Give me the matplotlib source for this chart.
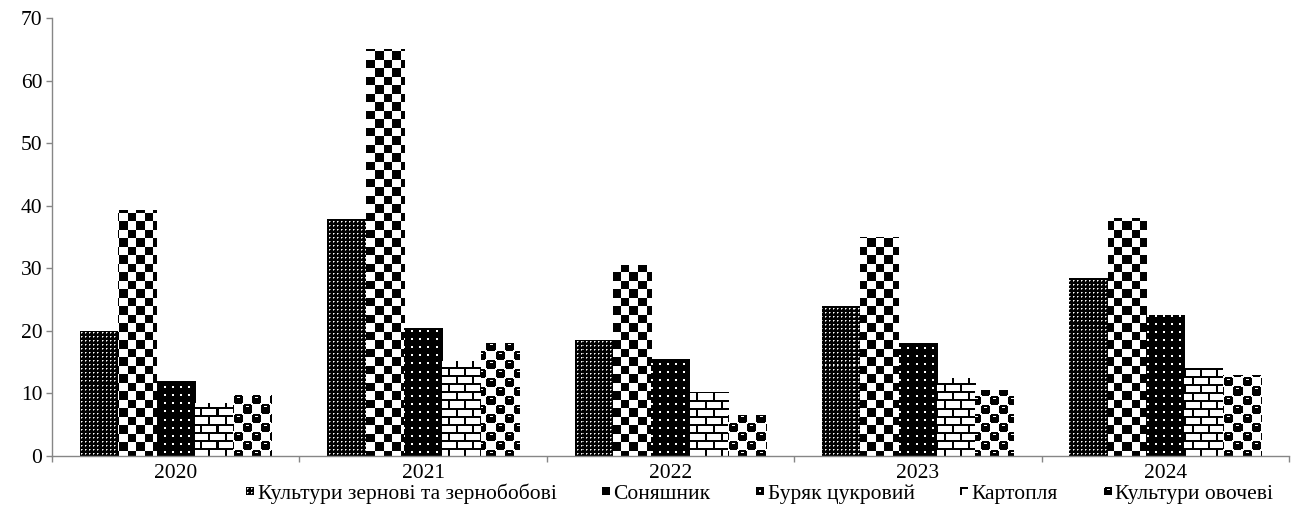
import numpy as np
import matplotlib
matplotlib.use("Agg")
import matplotlib.pyplot as plt
from matplotlib.patches import Rectangle
from matplotlib.legend_handler import HandlerBase

# ---- data -------------------------------------------------------------
years = ["2020", "2021", "2022", "2023", "2024"]
series_names = [
    "Культури зернові та зернобобові",
    "Соняшник",
    "Буряк цукровий",
    "Картопля",
    "Культури овочеві",
]
grain = [20.0, 37.8, 18.5, 24.0, 28.5]
sunflower = [39.3, 65.0, 30.5, 35.0, 38.0]
sugar_beet = [12.0, 20.5, 15.5, 18.0, 22.5]
potato = [8.5, 15.2, 10.3, 12.5, 14.0]
vegetables = [9.8, 18.0, 6.5, 10.5, 13.0]
y_ticks = [0, 10, 20, 30, 40, 50, 60, 70]

# ---- figure geometry (pixels) ----------------------------------------
DPI = 100
FW, FH = 1296, 507
AX_L, AX_R, AX_T, AX_B = 52, 1289, 18, 456

plt.rcParams["font.family"] = ["Liberation Serif", "DejaVu Serif"]
plt.rcParams["font.size"] = 15.5

fig = plt.figure(figsize=(FW / DPI, FH / DPI), dpi=DPI)
ax = fig.add_axes([AX_L / FW, (FH - AX_B) / FH, (AX_R - AX_L) / FW, (AX_B - AX_T) / FH])


# ---- monochrome fill patterns (1 = white, 0 = black) ----------------
def pat_dots_dense(X, Y):
    img = np.zeros(np.broadcast(X, Y).shape)
    img[(X % 4 == 1) & (Y % 4 == 1)] = 1.0
    img[((X % 4 == 2) & (Y % 4 == 1)) | ((X % 4 == 1) & (Y % 4 == 2))] = 0.55
    return img


def pat_checker(X, Y):
    return ((np.floor(X / 8.5) + np.floor(Y / 8.5)) % 2).astype(float) * np.ones(np.broadcast(X, Y).shape)


def pat_dots_sparse(X, Y):
    mx, my = X % 8, Y % 8
    return (((mx >= 3) & (mx <= 4)) & ((my >= 3) & (my <= 4))).astype(float)


def pat_brick(X, Y):
    img = np.ones(np.broadcast(X, Y).shape)
    row = Y // 8
    img[(Y % 8) < 2 + 0 * X] = 0.0
    img[((X + (row % 2) * 8) % 16) < 2] = 0.0
    return img


def pat_spheres(X, Y):
    shape = np.broadcast(X, Y).shape
    cx, cy = X // 9, Y // 9
    lx, ly = (X % 9) - 4.0, (Y % 9) - 4.0
    blob = (((cx + cy) % 2) == 0) & (lx ** 2 + ly ** 2 <= 5.2 ** 2)
    img = np.ones(shape)
    img[blob] = 0.0
    shine = blob & (np.abs(lx) <= 1.5) & (ly == -2)
    img[shine] = 1.0
    return img


patterns = [pat_dots_dense, pat_checker, pat_dots_sparse, pat_brick, pat_spheres]
values = [grain, sunflower, sugar_beet, potato, vegetables]

# pixel grid of the axes area, anchored to the figure
W, H = AX_R - AX_L, AX_B - AX_T
PX = np.arange(W)[None, :] + AX_L
PY = np.arange(H)[:, None] + AX_T

x = np.arange(len(years))
bar_w = 0.155
xlim = (-0.5, len(years) - 0.5)
ylim = (0, 70)

for s, (vals, pat) in enumerate(zip(values, patterns)):
    tile = pat(PX, PY)
    bars = ax.bar(x + (s - 2) * bar_w, vals, bar_w, facecolor="none",
                  edgecolor="none", zorder=2, label=series_names[s])
    for rect in bars:
        im = ax.imshow(tile, extent=(xlim[0], xlim[1], ylim[0], ylim[1]),
                       origin="upper", cmap="gray", vmin=0, vmax=1,
                       interpolation="nearest", aspect="auto", zorder=2)
        im.set_clip_path(rect)

ax.set_xlim(*xlim)
ax.set_ylim(*ylim)

# ---- axes styling ----------------------------------------------------
for side in ("top", "right"):
    ax.spines[side].set_visible(False)
for side in ("left", "bottom"):
    ax.spines[side].set_color("#868686")
    ax.spines[side].set_linewidth(1.0)

ax.set_yticks(y_ticks)
ax.set_yticklabels([str(t) for t in y_ticks])
ax.tick_params(axis="y", length=4, width=1, color="#868686", pad=3, labelsize=15.5)

ax.set_xticks(x)
ax.set_xticklabels(years)
ax.set_xticks(np.arange(len(years) + 1) - 0.5, minor=True)
ax.tick_params(axis="x", which="major", length=0, pad=6, labelsize=15.5)
ax.tick_params(axis="x", which="minor", length=4, width=1, color="#868686")


# ---- legend with small pattern swatches -------------------------------
class PatternSwatch(HandlerBase):
    def __init__(self, fn, n=8):
        super().__init__()
        self.fn = fn
        self.n = n

    def create_artists(self, legend, orig_handle, xdescent, ydescent,
                       width, height, fontsize, trans):
        n = self.n
        px = 72.0 / DPI
        size = n * px
        x0 = -xdescent + (width - size) / 2
        y0 = -ydescent + (height - size) / 2
        gx = np.arange(n)[None, :]
        gy = np.arange(n)[:, None]
        img = self.fn(gx, gy)
        arts = []
        for r in range(n):
            for c in range(n):
                v = float(img[r, c])
                if v < 1.0:
                    arts.append(Rectangle((x0 + c * px, y0 + (n - 1 - r) * px), px, px,
                                          facecolor=str(v), edgecolor="none",
                                          transform=trans))
        return arts


handles = [Rectangle((0, 0), 1, 1) for _ in series_names]
handler_map = {h: PatternSwatch(p) for h, p in zip(handles, patterns)}
fig.legend(handles, series_names, handler_map=handler_map, loc="lower center",
           bbox_to_anchor=(0.586, -0.032), ncol=5, frameon=False,
           handlelength=0.4, handleheight=0.4, handletextpad=0.15,
           columnspacing=2.1, fontsize=15.5)

fig.savefig("out.png", dpi=DPI)
